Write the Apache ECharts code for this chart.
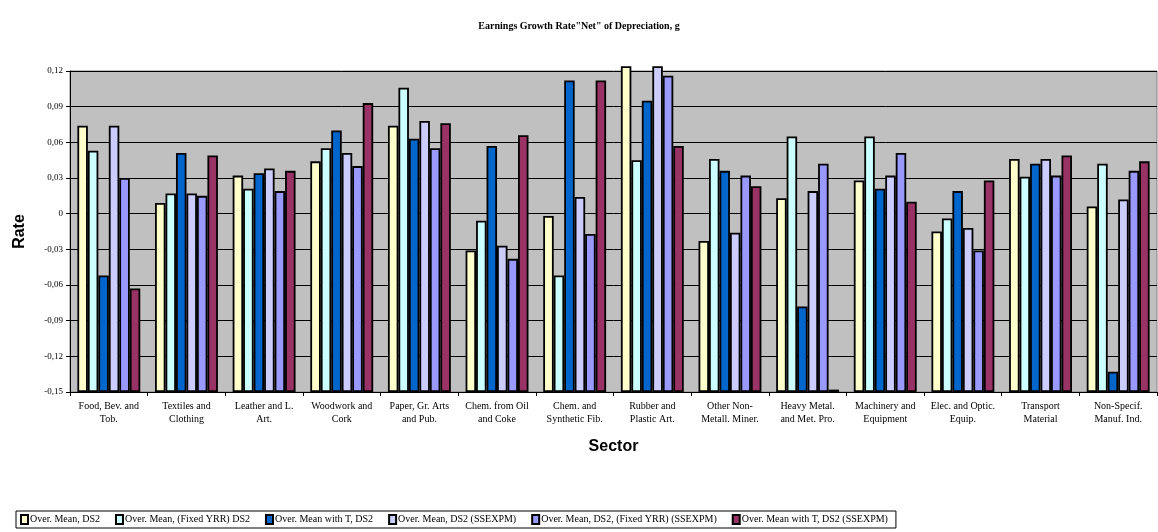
<!DOCTYPE html>
<html>
<head>
<meta charset="utf-8">
<script src="https://cdn.jsdelivr.net/npm/echarts@6/dist/echarts.min.js"></script>
<style>
    html, body { margin: 0; padding: 0; background: #fff; }
    #chart { width: 1158px; height: 532px; }
</style>
</head>
<body>
<div id="chart"></div>
<script>
    var sectors = [
        'Food, Bev. and\nTob.', 'Textiles and\nClothing', 'Leather and L.\nArt.', 'Woodwork and\nCork',
        'Paper, Gr. Arts\nand Pub.', 'Chem. from Oil\nand Coke', 'Chem. and\nSynthetic Fib.', 'Rubber and\nPlastic Art.',
        'Other Non-\nMetall. Miner.', 'Heavy Metal.\nand Met. Pro.', 'Machinery and\nEquipment', 'Elec. and Optic.\nEquip.',
        'Transport\nMaterial', 'Non-Specif.\nManuf. Ind.'
    ];

    var seriesNames = [
        'Over. Mean, DS2',
        'Over. Mean, (Fixed YRR) DS2',
        'Over. Mean with T, DS2',
        'Over. Mean, DS2 (SSEXPM)',
        'Over. Mean, DS2, (Fixed YRR) (SSEXPM)',
        'Over. Mean with T, DS2 (SSEXPM)'
    ];

    var meanDS2 = [0.074, 0.009, 0.032, 0.044, 0.074, -0.031, -0.002, 0.124, -0.023, 0.013, 0.028, -0.015, 0.046, 0.006];
    var meanFixedDS2 = [0.053, 0.017, 0.021, 0.055, 0.106, -0.006, -0.052, 0.045, 0.046, 0.065, 0.065, -0.004, 0.031, 0.042];
    var meanWithT = [-0.052, 0.051, 0.034, 0.070, 0.063, 0.057, 0.112, 0.095, 0.036, -0.078, 0.021, 0.019, 0.042, -0.133];
    var meanSSEXPM = [0.074, 0.017, 0.038, 0.051, 0.078, -0.027, 0.014, 0.124, -0.016, 0.019, 0.032, -0.012, 0.046, 0.012];
    var meanFixedSSEXPM = [0.030, 0.015, 0.019, 0.040, 0.055, -0.038, -0.017, 0.116, 0.032, 0.042, 0.051, -0.031, 0.032, 0.036];
    var meanWithTSSEXPM = [-0.063, 0.049, 0.036, 0.093, 0.076, 0.066, 0.112, 0.057, 0.023, -0.148, 0.010, 0.028, 0.049, 0.044];

    var allValues = [meanDS2, meanFixedDS2, meanWithT, meanSSEXPM, meanFixedSSEXPM, meanWithTSSEXPM];
    var colors = ['#FFFFCC', '#CCFFFF', '#0066CC', '#CCCCFF', '#9999FF', '#993366'];

    // Excel draws the bars up from the axis crossing (-0,15), not from zero,
    // so plot everything shifted by that base and relabel the axis
    var axisMin = -0.15;
    var axisMax = 0.12;

    var chart = echarts.init(document.getElementById('chart'));

    var series = seriesNames.map(function (name, i) {
        return {
            name: name,
            type: 'bar',
            data: allValues[i].map(function (v) { return +(v - axisMin).toFixed(4); }),
            clip: false,
            barGap: '0%',
            barCategoryGap: '19%',
            itemStyle: {
                color: colors[i],
                borderColor: '#000',
                borderWidth: 1.8
            },
            emphasis: { disabled: true }
        };
    });

    chart.setOption({
        animation: false,
        title: {
            text: 'Earnings Growth Rate"Net" of Depreciation, g',
            left: 'center',
            top: 16,
            textStyle: {
                fontFamily: 'Liberation Serif',
                fontSize: 10,
                fontWeight: 'bold',
                color: '#000'
            }
        },
        legend: {
            left: 16,
            top: 511,
            padding: [3, 8, 3, 4],
            itemGap: 15,
            itemWidth: 7,
            itemHeight: 9,
            icon: 'rect',
            borderColor: '#000',
            borderWidth: 1,
            textStyle: {
                fontFamily: 'Liberation Serif',
                fontSize: 10,
                color: '#000',
                padding: [0, 0, 0, -3]
            },
            data: seriesNames
        },
        grid: {
            left: 70,
            right: 1,
            top: 71,
            bottom: 140,
            show: true,
            backgroundColor: '#C0C0C0',
            borderColor: '#808080',
            borderWidth: 1
        },
        xAxis: {
            type: 'category',
            data: sectors,
            name: 'Sector',
            nameLocation: 'middle',
            nameGap: 47,
            nameTextStyle: {
                fontFamily: 'Liberation Sans',
                fontSize: 16,
                fontWeight: 'bold',
                color: '#000'
            },
            axisLine: { onZero: false, lineStyle: { color: '#000', width: 1 } },
            axisTick: { show: true, length: 4, lineStyle: { color: '#000' } },
            axisLabel: {
                fontFamily: 'Liberation Serif',
                fontSize: 10,
                lineHeight: 13,
                color: '#000',
                margin: 8,
                interval: 0
            },
            splitLine: { show: false }
        },
        yAxis: {
            type: 'value',
            min: 0,
            max: +(axisMax - axisMin).toFixed(4),
            interval: 0.03,
            name: 'Rate',
            nameLocation: 'middle',
            nameGap: 42,
            nameTextStyle: {
                fontFamily: 'Liberation Sans',
                fontSize: 16,
                fontWeight: 'bold',
                color: '#000'
            },
            axisLine: { show: true, lineStyle: { color: '#000', width: 1 } },
            axisTick: { show: true, length: 4, lineStyle: { color: '#000' } },
            axisLabel: {
                fontFamily: 'Liberation Serif',
                fontSize: 9,
                color: '#000',
                margin: 7,
                formatter: function (v) {
                    var real = v + axisMin;
                    if (Math.abs(real) < 1e-9) return '0';
                    return real.toFixed(2).replace('.', ',');
                }
            },
            splitLine: { show: true, lineStyle: { color: '#000', width: 1 } }
        },
        series: series
    });
</script>
</body>
</html>
